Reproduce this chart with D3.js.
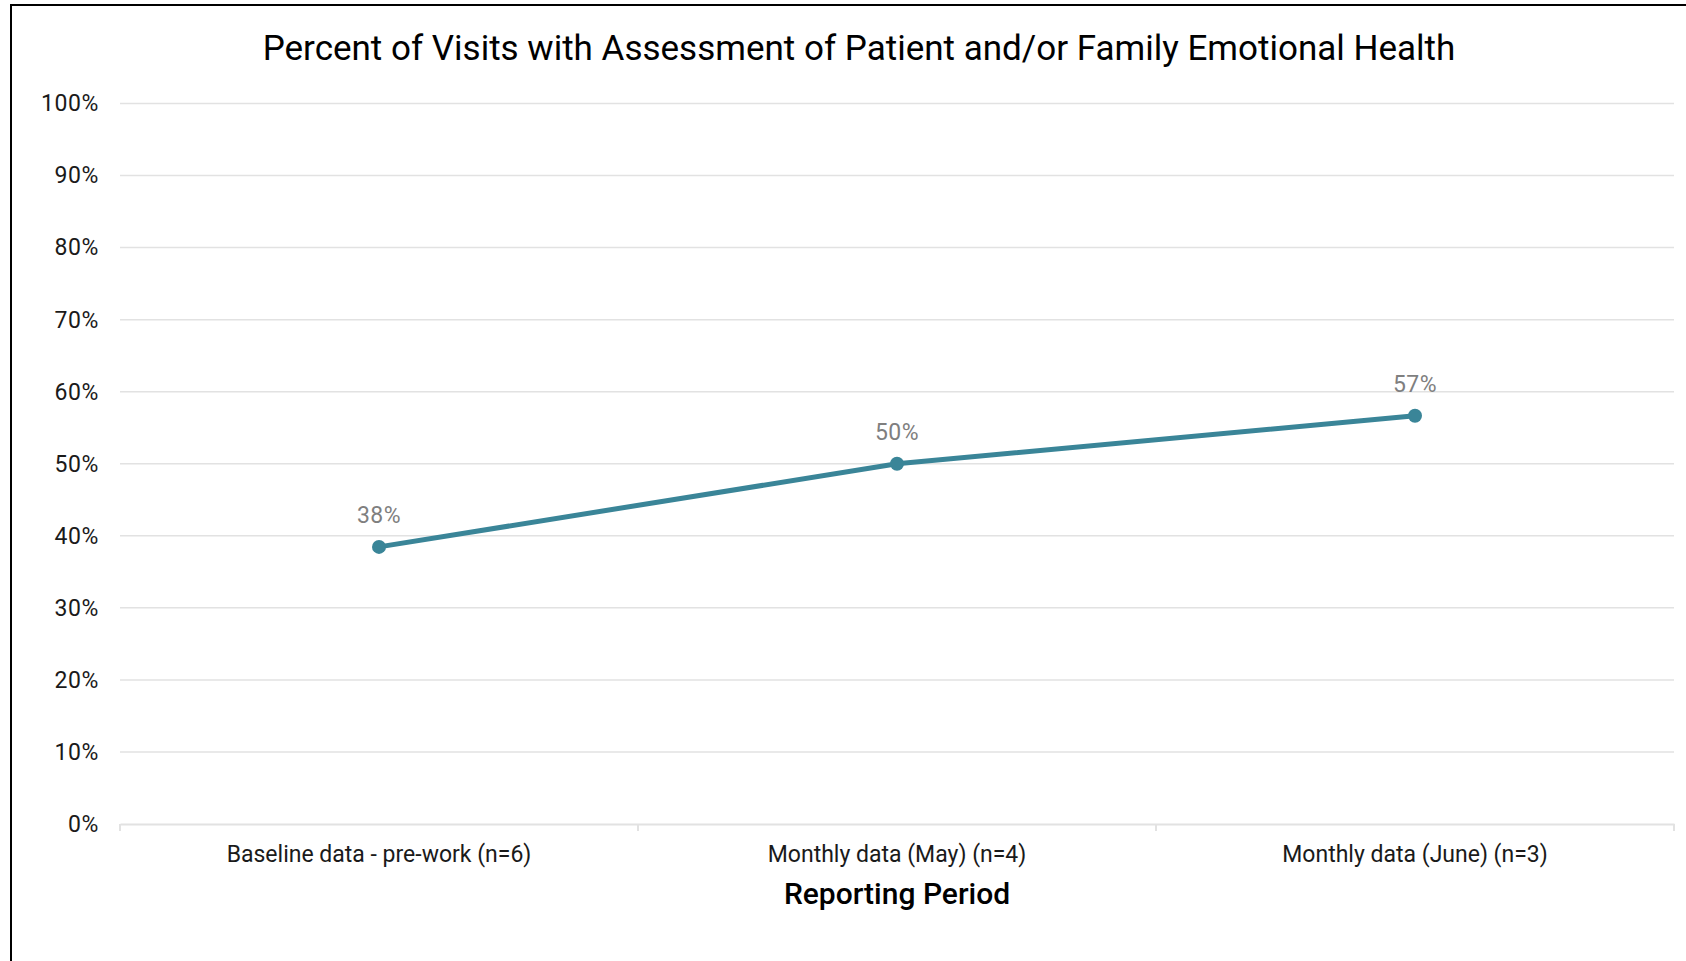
<!DOCTYPE html>
<html>
<head>
<meta charset="utf-8">
<script src="https://cdn.jsdelivr.net/npm/d3@7"></script>
<style>
  body { margin: 0; background: #fff; }
  svg { display: block; font-family: Roboto, "Liberation Sans", sans-serif; }
</style>
</head>
<body>
<div class="container"></div>
<script>
const periods = ["Baseline data - pre-work (n=6)", "Monthly data (May) (n=4)", "Monthly data (June) (n=3)"];
const percents = [0.3846, 0.50, 0.5667];
const pointLabels = ["38%", "50%", "57%"];
const yTicks = [0, 0.1, 0.2, 0.3, 0.4, 0.5, 0.6, 0.7, 0.8, 0.9, 1.0];

const chartTitle = "Percent of Visits with Assessment of Patient and/or Family Emotional Health";
const xTitle = "Reporting Period";

const W = 1686, H = 961;
const margin = {top: 103.5, right: 12, bottom: 137, left: 120};
const width = W - margin.left - margin.right;
const height = H - margin.top - margin.bottom;

const svg = d3.select(".container")
              .append("svg")
                .attr("width", W)
                .attr("height", H);

// outer frame (runs off the right and bottom edge)
svg.append("rect")
   .attr("x", 11).attr("y", 5)
   .attr("width", W + 20).attr("height", H + 20)
   .attr("fill", "none")
   .attr("stroke", "#000")
   .attr("stroke-width", 2);

const g = svg.append("g")
             .attr("transform", "translate(" + margin.left + "," + margin.top + ")");

const x = d3.scaleBand().domain(periods).range([0, width]);
const y = d3.scaleLinear().domain([0, 1]).range([height, 0]);

// gridlines
g.selectAll(".grid")
  .data(yTicks.filter(d => d > 0))
  .enter()
  .append("line")
    .attr("x1", 0).attr("x2", width)
    .attr("y1", d => y(d)).attr("y2", d => y(d))
    .attr("stroke", "#e2e2e2")
    .attr("stroke-width", 1.5);

// y axis labels
const yAxis = g.append("g")
  .call(d3.axisLeft(y).tickValues(yTicks).tickFormat(d3.format(".0%")).tickSize(0).tickPadding(21));
yAxis.select(".domain").remove();
yAxis.selectAll("text")
  .attr("font-size", 23)
  .attr("letter-spacing", 0.6)
  .attr("font-family", "Roboto, sans-serif")
  .attr("fill", "#1a1a1a");

// x axis
const xAxis = g.append("g")
  .attr("transform", "translate(0," + height + ")")
  .call(d3.axisBottom(x).tickSize(0).tickPadding(22));
xAxis.select(".domain").attr("stroke", "#e2e2e2").attr("stroke-width", 2);
xAxis.selectAll("text")
  .attr("font-size", 23)
  .attr("font-family", "Roboto, sans-serif")
  .attr("fill", "#1a1a1a");

// category boundary ticks
const bounds = periods.map(p => x(p)).concat([width]);
g.selectAll(".xtick")
  .data(bounds)
  .enter()
  .append("line")
    .attr("x1", d => d).attr("x2", d => d)
    .attr("y1", height).attr("y2", height + 7)
    .attr("stroke", "#e2e2e2")
    .attr("stroke-width", 2);

const cx = d => x(d) + x.bandwidth() / 2;

// series line
const line = d3.line()
  .x((d, i) => cx(periods[i]))
  .y(d => y(d));

g.append("path")
  .datum(percents)
  .attr("d", line)
  .attr("fill", "none")
  .attr("stroke", "#3a8598")
  .attr("stroke-width", 5)
  .attr("stroke-linejoin", "round");

g.selectAll(".dot")
  .data(percents)
  .enter()
  .append("circle")
    .attr("cx", (d, i) => cx(periods[i]))
    .attr("cy", d => y(d))
    .attr("r", 7)
    .attr("fill", "#3a8598");

g.selectAll(".val")
  .data(percents)
  .enter()
  .append("text")
    .attr("x", (d, i) => cx(periods[i]))
    .attr("y", d => y(d) - 24)
    .attr("text-anchor", "middle")
    .attr("font-size", 23)
    .attr("letter-spacing", 0.5)
    .attr("fill", "#7f7f7f")
    .text((d, i) => pointLabels[i]);

// titles
svg.append("text")
  .attr("x", 859)
  .attr("y", 60)
  .attr("text-anchor", "middle")
  .attr("font-size", 35)
  .attr("fill", "#000")
  .text(chartTitle);

svg.append("text")
  .attr("x", margin.left + width / 2)
  .attr("y", 904)
  .attr("text-anchor", "middle")
  .attr("font-size", 30)
  .attr("font-weight", 500)
  .attr("fill", "#000")
  .text(xTitle);
</script>
</body>
</html>
